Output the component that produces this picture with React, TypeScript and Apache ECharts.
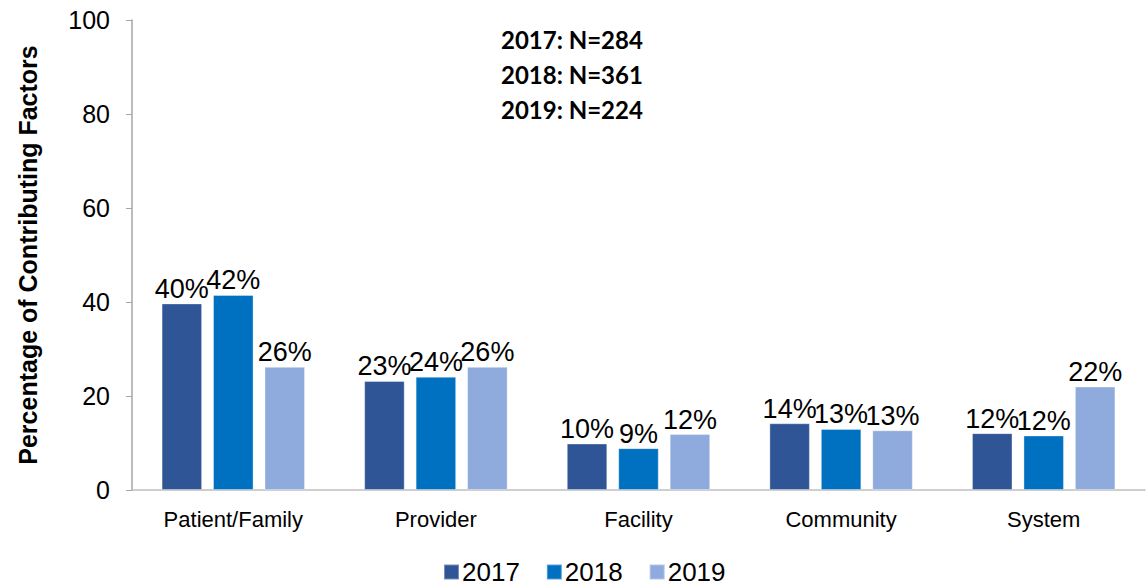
import React, { useEffect, useRef } from "react";
import * as echarts from "echarts";

const categories = ["Patient/Family", "Provider", "Facility", "Community", "System"];
const seriesNames = ["2017", "2018", "2019"];
const values2017 = [39.7, 23.2, 9.9, 14.2, 12.1];
const values2018 = [41.5, 24.1, 8.9, 13.0, 11.6];
const values2019 = [26.2, 26.2, 11.9, 12.7, 22.0];
const labels2017 = ["40%", "23%", "10%", "14%", "12%"];
const labels2018 = ["42%", "24%", "9%", "13%", "12%"];
const labels2019 = ["26%", "26%", "12%", "13%", "22%"];
const colors = ["#2F5597", "#0070C0", "#8FAADC"];
const annotations = ["2017: N=284", "2018: N=361", "2019: N=224"];

export default function App() {
  const ref = useRef<HTMLDivElement>(null);
  useEffect(() => {
    if (!ref.current) return;
    const chart = echarts.init(ref.current, null, { renderer: "svg" });
    const vals = [values2017, values2018, values2019];
    const labs = [labels2017, labels2018, labels2019];
    chart.setOption({
      animation: false,
      grid: { left: 132, right: 3, top: 20, bottom: 98, containLabel: false },
      legend: {
        data: seriesNames,
        left: 443,
        top: 559,
        itemWidth: 15,
        itemHeight: 15,
        itemGap: 26,
        icon: "rect",
        padding: 0,
        textStyle: { fontFamily: "Liberation Sans, Arial", fontSize: 26, lineHeight: 26, color: "#000", padding: [0, 0, 0, -2] },
      },
      xAxis: {
        type: "category",
        data: categories,
        axisLine: { lineStyle: { color: "#BFBFBF", width: 1.5 } },
        axisTick: { show: false },
        axisLabel: { fontFamily: "Liberation Sans, Arial", fontSize: 22, color: "#000", margin: 18 },
      },
      yAxis: {
        type: "value",
        min: 0,
        max: 100,
        interval: 20,
        name: "Percentage of Contributing Factors",
        nameLocation: "middle",
        nameGap: 92,
        nameTextStyle: { fontFamily: "Liberation Sans, Arial", fontSize: 25, fontWeight: "bold", color: "#000" },
        axisLine: { show: true, lineStyle: { color: "#A6A6A6", width: 1.5 } },
        axisTick: { show: true, length: 6, lineStyle: { color: "#A6A6A6" } },
        splitLine: { show: false },
        axisLabel: { fontFamily: "Liberation Sans, Arial", fontSize: 25, color: "#000", margin: 22 },
      },
      series: seriesNames.map((name, i) => ({
        name,
        type: "bar",
        data: vals[i],
        barWidth: "20%",
        barGap: "27%",
        itemStyle: { color: colors[i], borderColor: "rgba(255,255,255,0.35)", borderWidth: 1 },
        label: {
          show: true,
          position: "top",
          distance: 1,
          formatter: (p: any) => labs[i][p.dataIndex],
          fontFamily: "Liberation Sans, Arial",
          fontSize: 27,
          color: "#000",
        },
      })),
      graphic: annotations.map((t, i) => ({
        type: "text",
        left: 501,
        top: 27 + i * 35,
        style: {
          text: t,
          font: "bold 24px Lato, 'Open Sans', sans-serif",
          fill: "#000",
        },
      })),
    });
    return () => chart.dispose();
  }, []);
  return <div ref={ref} style={{ width: 1148, height: 588, position: "absolute", left: 0, top: 0 }} />;
}
